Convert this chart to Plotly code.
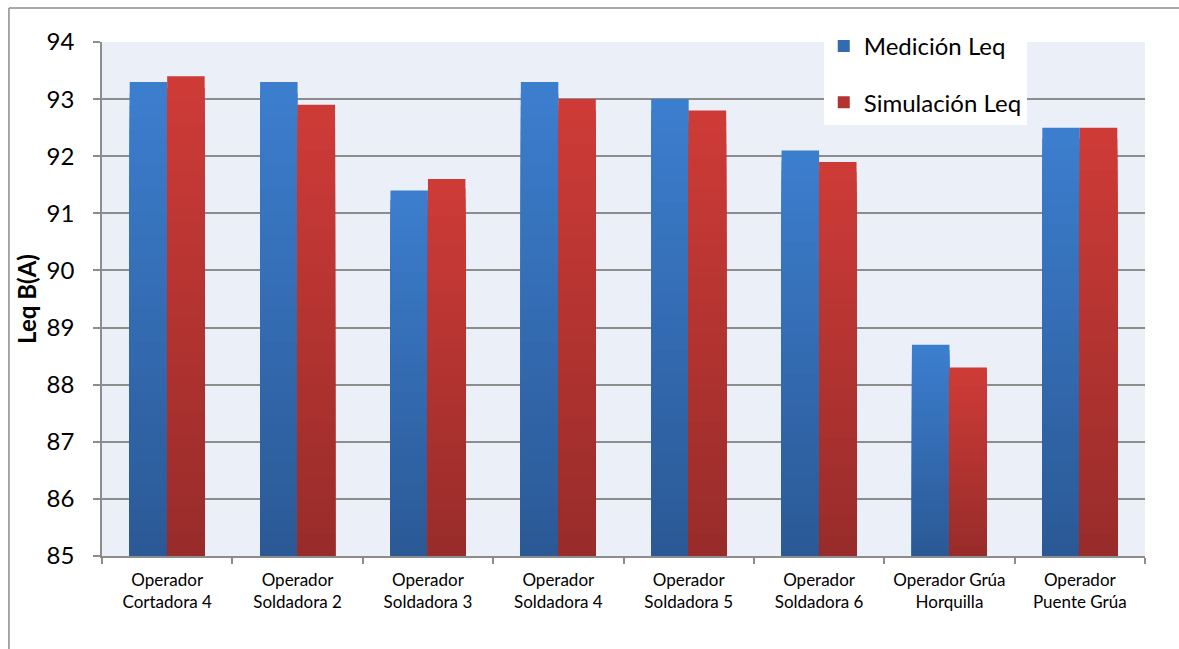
import plotly.graph_objects as go

# Noise levels per operator position
categories = [
    "Operador<br>Cortadora 4",
    "Operador<br>Soldadora 2",
    "Operador<br>Soldadora 3",
    "Operador<br>Soldadora 4",
    "Operador<br>Soldadora 5",
    "Operador<br>Soldadora 6",
    "Operador Grúa<br>Horquilla",
    "Operador<br>Puente Grúa",
]
medicion_leq = [93.3, 93.3, 91.4, 93.3, 93.0, 92.1, 88.7, 92.5]
simulacion_leq = [93.4, 92.9, 91.6, 93.0, 92.8, 91.9, 88.3, 92.5]
y_ticks = [85, 86, 87, 88, 89, 90, 91, 92, 93, 94]

Y_BASE = 85
FONT = "Lato"
N_STEPS = 40  # layers used to shade each bar from top (light) to bottom (dark)


def mix(c1, c2, t):
    r = [round(a + (b - a) * t) for a, b in zip(c1, c2)]
    return "rgb({},{},{})".format(*r)


series = [
    ("Medición Leq", medicion_leq, (60, 126, 206), (43, 89, 150), "m"),
    ("Simulación Leq", simulacion_leq, (206, 59, 55), (152, 44, 42), "s"),
]

fig = go.Figure()
for name, values, top, bottom, grp in series:
    for k in range(N_STEPS):
        frac = 1 - k / N_STEPS
        fig.add_trace(
            go.Bar(
                x=categories,
                y=[(v - Y_BASE) * frac for v in values],
                base=Y_BASE,
                name=name,
                offsetgroup=grp,
                legendgroup=grp,
                showlegend=(k == N_STEPS // 2),
                marker=dict(color=mix(top, bottom, k / (N_STEPS - 1)), line=dict(width=0)),
                hoverinfo="skip",
            )
        )

grid_color = "#8C8C8C"

fig.update_layout(
    width=1179,
    height=649,
    margin=dict(l=102, r=34, t=42, b=93),
    paper_bgcolor="white",
    plot_bgcolor="#EBF0F8",
    barmode="group",
    bargap=0.425,
    bargroupgap=0,
    font=dict(family=FONT, color="black"),
    showlegend=True,
    legend=dict(
        x=0.692,
        y=1.035,
        xanchor="left",
        yanchor="top",
        bgcolor="white",
        borderwidth=0,
        font=dict(size=24, family=FONT, color="black"),
        traceorder="grouped",
        tracegroupgap=22,
        itemclick=False,
    ),
    xaxis=dict(
        type="category",
        showline=True,
        linecolor=grid_color,
        linewidth=1.5,
        ticks="outside",
        tickson="boundaries",
        ticklen=6,
        tickcolor=grid_color,
        tickwidth=1.5,
        tickfont=dict(size=17, family=FONT, color="black"),
        ticklabelstandoff=8,
        showgrid=False,
    ),
    yaxis=dict(
        range=[85, 94],
        tickvals=y_ticks,
        showline=True,
        linecolor=grid_color,
        linewidth=1.5,
        ticks="outside",
        ticklen=7,
        tickcolor=grid_color,
        tickwidth=1.5,
        tickfont=dict(size=24, family=FONT, color="black"),
        ticklabelstandoff=14,
        showgrid=True,
        gridcolor=grid_color,
        gridwidth=1.5,
        zeroline=False,
        title=dict(
            text="<b>Leq B(A)</b>",
            font=dict(size=24, family=FONT, color="black"),
            standoff=3,
        ),
    ),
    shapes=[
        # chart frame (left and top edges)
        dict(type="line", xref="paper", yref="paper", x0=-0.0892, x1=-0.0892,
             y0=1.0661, y1=-0.25, line=dict(color="#8C8C8C", width=1.5)),
        dict(type="line", xref="paper", yref="paper", x0=-0.0892, x1=1.1,
             y0=1.0661, y1=1.0661, line=dict(color="#8C8C8C", width=1.5)),
    ],
)

fig.write_html("out.html")
